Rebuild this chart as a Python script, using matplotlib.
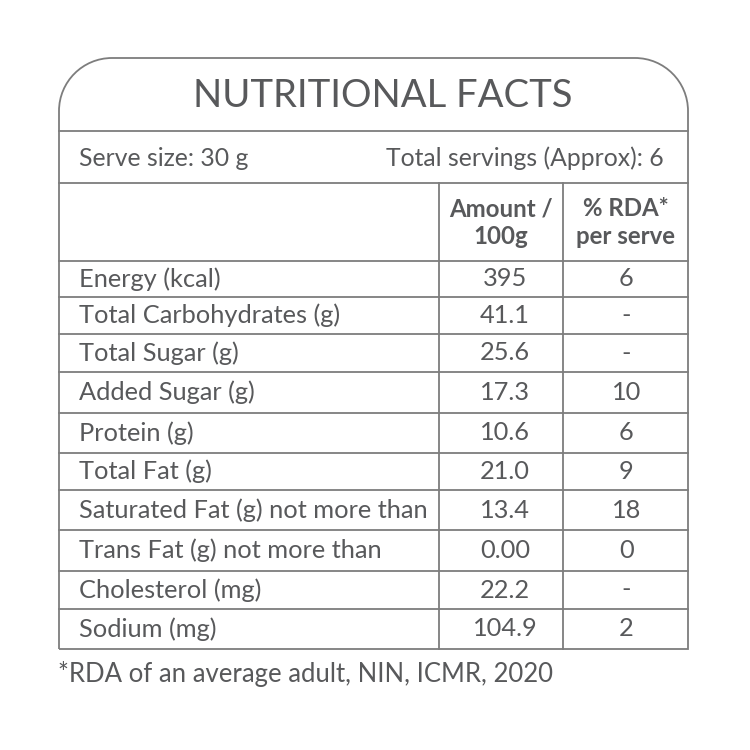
import matplotlib.pyplot as plt
from matplotlib.path import Path
from matplotlib.patches import PathPatch

# table content
title = "NUTRITIONAL FACTS"
serve_size = "Serve size: 30 g"
servings = "Total servings (Approx): 6"
col_headers = [["Amount /", "100g"], ["% RDA*", "per serve"]]
nutrients = ["Energy (kcal)", "Total Carbohydrates (g)", "Total Sugar (g)",
             "Added Sugar (g)", "Protein (g)", "Total Fat (g)",
             "Saturated Fat (g) not more than", "Trans Fat (g) not more than",
             "Cholesterol (mg)", "Sodium (mg)"]
amount_100g = ["395", "41.1", "25.6", "17.3", "10.6", "21.0", "13.4", "0.00", "22.2", "104.9"]
rda_serve = ["6", "-", "-", "10", "6", "9", "18", "0", "-", "2"]
footnote = "*RDA of an average adult, NIN, ICMR, 2020"

# layout in pixels (y grows downward)
left, right, top = 59, 688, 58
r = 53
title_bottom = 131
serve_bottom = 183
row_edges = [261, 297, 334, 372, 413, 453, 490, 530, 571, 609, 649]
col1, col2 = 439, 563
txt = "#58595b"
line = "#7d7d7d"
lw = 1.3

plt.rcParams['font.family'] = ['Lato', 'DejaVu Sans']

fig = plt.figure(figsize=(7.5, 7.5), dpi=100)
ax = fig.add_axes([0, 0, 1, 1])
ax.set_xlim(0, 750)
ax.set_ylim(750, 0)
ax.axis('off')

bottom = row_edges[-1]
k = 0.5523 * r
verts = [(left, bottom), (left, top + r),
         (left, top + r - k), (left + r - k, top), (left + r, top),
         (right - r, top),
         (right - r + k, top), (right, top + r - k), (right, top + r),
         (right, bottom), (left, bottom)]
codes = [Path.MOVETO, Path.LINETO,
         Path.CURVE4, Path.CURVE4, Path.CURVE4,
         Path.LINETO,
         Path.CURVE4, Path.CURVE4, Path.CURVE4,
         Path.LINETO, Path.LINETO]
ax.add_patch(PathPatch(Path(verts, codes), facecolor='white', edgecolor=line, lw=lw))

for y in [title_bottom, serve_bottom] + row_edges[:-1]:
    ax.plot([left, right], [y, y], color=line, lw=lw)
for x in [col1, col2]:
    ax.plot([x, x], [serve_bottom, bottom], color=line, lw=lw)

ax.text(383, 96, title, fontsize=27.5, color=txt, ha='center', va='center')
ax.text(79, 158, serve_size, fontsize=17.8, color=txt, ha='left', va='center')
ax.text(664, 158, servings, fontsize=17.8, color=txt, ha='right', va='center')

c1 = (col1 + col2) / 2
c2 = (col2 + right) / 2
for cx, h in zip([c1, c2], col_headers):
    ax.text(cx, 209, h[0], fontsize=17.3, color=txt, fontweight='bold', ha='center', va='center')
    ax.text(cx, 236, h[1], fontsize=17.3, color=txt, fontweight='bold', ha='center', va='center')

for i, name in enumerate(nutrients):
    cy = (row_edges[i] + row_edges[i + 1]) / 2
    ax.text(79, cy, name, fontsize=18.3, color=txt, ha='left', va='center')
    ax.text(c1 + 4, cy, amount_100g[i], fontsize=18.3, color=txt, ha='center', va='center')
    ax.text(c2 + 1, cy, rda_serve[i], fontsize=18.3, color=txt, ha='center', va='center')

ax.text(58, 674, footnote, fontsize=18.5, color=txt, ha='left', va='center')

fig.savefig('out.png', dpi=100)
